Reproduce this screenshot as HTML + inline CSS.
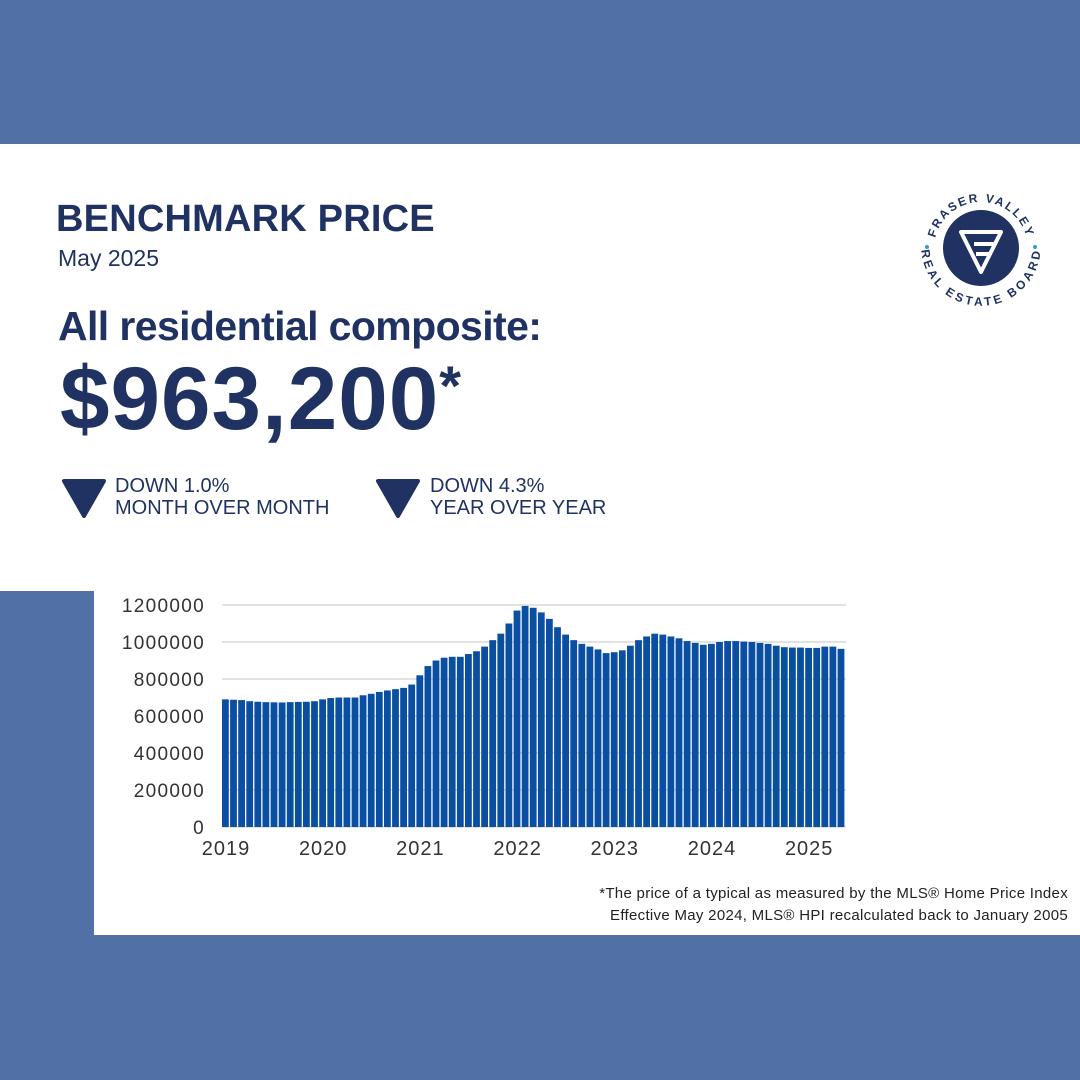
<!DOCTYPE html>
<html><head><meta charset="utf-8"><style>
body{margin:0;width:1080px;height:1080px;background:#5070a6;position:relative;overflow:hidden;font-family:"Liberation Sans",sans-serif;color:#1f3262}
.w{position:absolute;background:#fff}
.t{position:absolute;white-space:nowrap}
</style></head><body>
<div class="w" style="left:0;top:144px;width:1080px;height:447px"></div>
<div class="w" style="left:94px;top:590px;width:986px;height:345px"></div>
<div class="t" style="left:56px;top:198px;font-size:38px;font-weight:bold;letter-spacing:0.2px">BENCHMARK PRICE</div>
<div class="t" style="left:58px;top:245px;font-size:23px">May 2025</div>
<div class="t" style="left:58px;top:303px;font-size:41px;font-weight:bold;letter-spacing:-0.6px">All residential composite:</div>
<div class="t" style="left:60px;top:347px;font-size:89px;font-weight:bold;letter-spacing:1px">$963,200<span style="font-size:56px;vertical-align:top;position:relative;top:6px">*</span></div>
<svg style="position:absolute;left:62px;top:478px" width="44" height="40"><polygon points="2,3 42,3 22,38" fill="#1f3262" stroke="#1f3262" stroke-width="4" stroke-linejoin="round"/></svg>
<div class="t" style="left:115px;top:475px;font-size:20px;line-height:22px">DOWN 1.0%<br>MONTH OVER MONTH</div>
<svg style="position:absolute;left:376px;top:478px" width="44" height="40"><polygon points="2,3 42,3 22,38" fill="#1f3262" stroke="#1f3262" stroke-width="4" stroke-linejoin="round"/></svg>
<div class="t" style="left:430px;top:475px;font-size:20px;line-height:22px">DOWN 4.3%<br>YEAR OVER YEAR</div>
<svg style="position:absolute;left:916px;top:184px" width="130" height="130" viewBox="0 0 130 130">
<defs><path id="ta" d="M18,65 A47,47 0 0 1 112,65"/><path id="tb" d="M14,62 A51,51 0 0 0 116,62"/></defs>
<circle cx="65" cy="64" r="38" fill="#1f3262"/>
<text font-size="12" font-weight="bold" fill="#1f3262" letter-spacing="2"><textPath href="#ta" startOffset="50%" text-anchor="middle">FRASER VALLEY</textPath></text>
<text font-size="12" font-weight="bold" fill="#1f3262" letter-spacing="1.5"><textPath href="#tb" startOffset="50%" text-anchor="middle" dominant-baseline="hanging">REAL ESTATE BOARD</textPath></text>
<circle cx="11" cy="63" r="2" fill="#3a9ad9"/><circle cx="119" cy="63" r="2" fill="#3a9ad9"/>
<path d="M45,48 L85,48 L65,88 Z M58,60 L80,60 M60,70 L75,70" fill="none" stroke="#fff" stroke-width="4" stroke-linejoin="round"/>
</svg>
<svg id="c" style="position:absolute;left:0;top:0" width="1080" height="1080"></svg>
<div class="t" style="right:12px;top:883px;font-size:15px;color:#222;text-align:right;line-height:22px;letter-spacing:0.3px">*The price of a typical as measured by the MLS® Home Price Index<br>Effective May 2024, MLS® HPI recalculated back to January 2005</div>
<script>
var v=[690,688,686,680,677,675,674,673,675,676,677,680,690,697,700,700,700,712,720,730,738,745,752,770,820,870,900,915,920,920,935,950,975,1010,1045,1100,1170,1195,1185,1160,1125,1080,1040,1010,990,975,960,940,945,955,980,1010,1030,1045,1040,1030,1020,1005,995,985,990,1000,1005,1005,1002,1000,995,990,980,972,970,970,968,968,975,975,963];
var s='';
for(var i=0;i<=6;i++){var y=827-i*37;s+='<line x1="222" x2="846" y1="'+y+'" y2="'+y+'" stroke="#e2e2e2" stroke-width="2"/>';s+='<text x="205" y="'+(y+7)+'" font-size="19" letter-spacing="1.3" fill="#333" text-anchor="end" font-family="Liberation Sans">'+(i*200000)+'</text>';}
v.forEach(function(d,i){var h=d*0.185;s+='<rect x="'+(222+i*8.1)+'" y="'+(827-h)+'" width="6.8" height="'+h+'" fill="#0b4fa3"/>';});
for(var k=0;k<7;k++){s+='<text x="'+(226+k*12*8.1)+'" y="855" font-size="20" letter-spacing="1" fill="#333" text-anchor="middle" font-family="Liberation Sans">'+(2019+k)+'</text>';}
document.getElementById('c').innerHTML=s;
</script>
</body></html>
